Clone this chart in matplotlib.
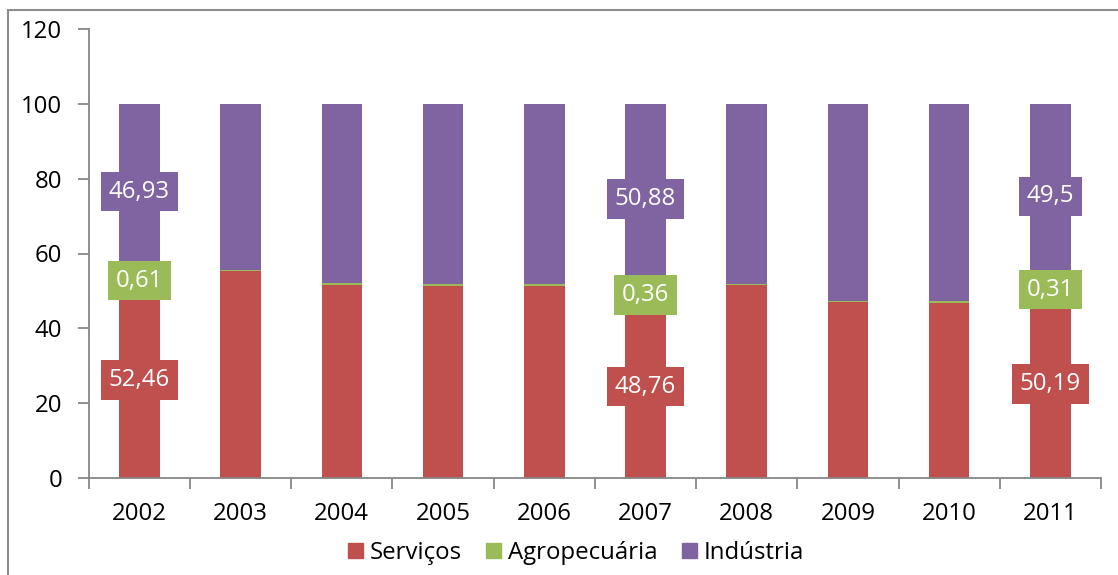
import matplotlib
matplotlib.use("Agg")
import matplotlib.pyplot as plt
from matplotlib.patches import Rectangle, Patch
import numpy as np

plt.rcParams['font.family'] = ['Open Sans', 'DejaVu Sans']

anos = ['2002', '2003', '2004', '2005', '2006', '2007', '2008', '2009', '2010', '2011']
servicos = [52.46, 55.2, 51.7, 51.4, 51.3, 48.76, 51.5, 47.0, 46.9, 50.19]
agro = [0.61, 0.5, 0.5, 0.45, 0.45, 0.36, 0.4, 0.4, 0.35, 0.31]
industria = [46.93, 44.3, 47.8, 48.15, 48.25, 50.88, 48.1, 52.6, 52.75, 49.5]
rotulos = [0, 5, 9]  # anos com rótulo de dados

cores = {'Serviços': '#C0504D', 'Agropecuária': '#9BBB59', 'Indústria': '#8064A2'}
cinza = '#868686'
fs = 17.3

fig = plt.figure(figsize=(11.18, 5.75), dpi=100)
W, H = 1118, 575
ax = fig.add_axes([88.8 / W, 1 - 478 / H, (1101 - 88.8) / W, (478 - 29) / H])

x = np.arange(len(anos))
s = np.array(servicos)
a = np.array(agro)
ind = np.array(industria)
ax.bar(x, s, 0.4, color=cores['Serviços'])
ax.bar(x, a, 0.4, bottom=s, color=cores['Agropecuária'])
ax.bar(x, ind, 0.4, bottom=s + a, color=cores['Indústria'])

def fmt(v):
    return ('%g' % v).replace('.', ',')

for i in rotulos:
    for val, base, cor in [(s[i], 0, cores['Serviços']),
                           (a[i], s[i], cores['Agropecuária']),
                           (ind[i], s[i] + a[i], cores['Indústria'])]:
        ax.text(x[i], base + val / 2, fmt(val), ha='center', va='center',
                color='white', fontsize=fs,
                bbox=dict(boxstyle='square,pad=0.32', fc=cor, ec='none'))

ax.set_xlim(-0.5, len(anos) - 0.5)
ax.set_ylim(0, 120)
ax.set_yticks(range(0, 121, 20))
ax.set_xticks(x)
ax.set_xticklabels(anos)
ax.set_xticks(np.arange(-0.5, len(anos), 1), minor=True)
ax.tick_params(axis='x', which='major', length=0, pad=17, labelsize=fs)
ax.tick_params(axis='x', which='minor', length=8, width=1.3, color=cinza, direction='out')
ax.tick_params(axis='y', length=8, width=1.3, color=cinza, pad=11, labelsize=fs)
for side in ['top', 'right']:
    ax.spines[side].set_visible(False)
for side in ['left', 'bottom']:
    ax.spines[side].set_color(cinza)
    ax.spines[side].set_linewidth(1.3)

handles = [Patch(color=c, label=k) for k, c in cores.items()]
fig.legend(handles=handles, loc='center', bbox_to_anchor=(576 / W, 22 / H),
           ncol=3, frameon=False, fontsize=fs, handlelength=0.62, handleheight=0.62,
           handletextpad=0.3, columnspacing=1.0)

fig.patches.append(Rectangle((7.5 / W, -0.1), 1.2, 1.1 - 10 / H, transform=fig.transFigure,
                             fill=False, ec='#8c8c8c', lw=1.5))

fig.savefig('out.png', dpi=100)
